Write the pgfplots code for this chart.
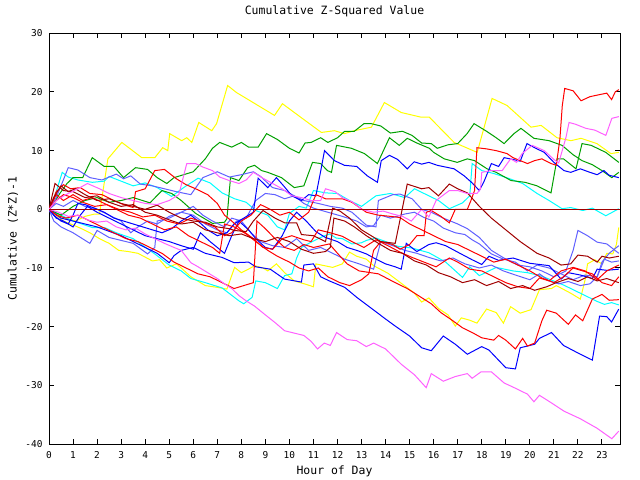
\documentclass[border=0pt]{standalone}
\usepackage{fontspec}
\setmainfont{DejaVu Sans Mono}
\usepackage{pgfplots}
\pgfplotsset{compat=1.18}
\definecolor{cred}{RGB}{255,0,0}
\definecolor{cdred}{RGB}{160,0,0}
\definecolor{cgreen}{RGB}{0,160,0}
\definecolor{cblue}{RGB}{0,0,255}
\definecolor{clblue}{RGB}{96,96,255}
\definecolor{cyellow}{RGB}{255,255,0}
\definecolor{ccyan}{RGB}{0,255,255}
\definecolor{cmag}{RGB}{255,96,255}
\begin{document}
\begin{tikzpicture}
\path[use as bounding box] (0,0) rectangle (640bp,480bp);
\begin{axis}[
  at={(49bp,36bp)}, anchor=south west,
  scale only axis, width=571bp, height=410.7bp,
  xmin=0, xmax=23.75, ymin=-40, ymax=30,
  xtick={0,1,...,23},
  xticklabels={0,1,2,3,4,5,6,7,8,9,10,11,12,13,14,15,16,17,18,19,20,21,22,23},
  ytick={-40,-30,-20,-10,0,10,20,30},
  yticklabels={-40,-30,-20,-10,0,10,20,30},
  tick align=inside, major tick length=5bp,
  every tick/.style={black, line width=1bp},
  axis line style={black, line width=1bp},
  tick label style={font=\fontsize{9.5}{11}\selectfont},
  xticklabel style={yshift=-4bp},
  yticklabel style={xshift=-3bp},
  title={Cumulative Z-Squared Value},
  title style={at={(axis description cs:0.5,1.040)}, anchor=center, font=\fontsize{11.5}{13}\selectfont},
  xlabel={Hour of Day},
  xlabel style={at={(axis description cs:0.5,-0.0657)}, anchor=center, font=\fontsize{11.5}{13}\selectfont},
  ylabel={Cumulative (Z*Z)-1},
  ylabel style={at={(axis description cs:-0.063,0.5)}, anchor=center, rotate=0, font=\fontsize{11.5}{13}\selectfont},
  every axis plot/.append style={line width=1bp, mark=none},
]
% Yellow 1 (top)
\addplot[cyellow] coordinates {(0,0)(0.3,-0.8)(0.7,-1.5)(1.1,-2)(1.5,-1.2)(1.9,-0.8)(2.1,-0.8)(2.45,8.6)(3.03,11.4)(3.86,8.8)(4.4,8.8)(4.73,10.5)(4.94,10)(5.02,12.9)(5.52,11.7)(5.73,12.2)(5.94,11.4)(6.23,14.8)(6.77,13.4)(6.97,14.6)(7.43,21.1)(7.8,19.9)(9.38,16)(9.71,18)(10.5,15.6)(11.33,13.1)(11.87,13.4)(12.29,12.9)(12.7,13.4)(13.41,14)(13.95,18.2)(14.65,16.5)(15.48,15.7)(15.82,15.7)(16.85,11.4)(17.81,9.7)(18.43,18.9)(19.05,17.7)(20.05,14)(20.47,14.3)(21.13,12.2)(21.71,11.7)(22.13,12.1)(22.79,11.2)(23.37,9.5)(23.7,9.7)};
% Yellow 2 (lower)
\addplot[cyellow] coordinates {(0,0)(0.3,-1)(0.6,-2)(0.9,-2.5)(1.3,-3.2)(1.7,-4)(2.1,-5)(2.5,-5.8)(2.9,-7)(3.3,-7.2)(3.7,-7.5)(4.3,-8.8)(4.6,-8.6)(4.9,-10)(5.3,-9.3)(5.5,-10)(5.9,-11.5)(6.5,-13)(7.0,-13.3)(7.4,-13.6)(7.72,-9.9)(8.0,-10.8)(8.3,-10.2)(8.55,-9.6)(8.9,-10)(9.1,-10.5)(9.46,-9.3)(9.8,-10.8)(10.2,-12.2)(10.7,-12.8)(11.0,-13.2)(11.1,-9.3)(11.8,-9.9)(12.2,-9.3)(12.5,-7.3)(12.8,-8)(13.2,-8.5)(13.5,-9.6)(14.1,-10.9)(14.65,-12.6)(15.2,-14.3)(15.5,-15.8)(15.8,-15.1)(16.2,-16.9)(16.6,-18)(16.9,-19.9)(17.15,-18.5)(17.5,-18.9)(17.8,-19.4)(18.2,-17)(18.6,-17.6)(18.9,-19.4)(19.2,-16.6)(19.6,-17.7)(20.05,-17.1)(20.4,-13.7)(20.9,-13.5)(21.1,-13)(21.7,-14.3)(22.1,-15.3)(22.3,-12)(22.4,-9.3)(22.7,-8.6)(23.0,-9.3)(23.2,-7.5)(23.45,-7.6)(23.6,-6)(23.7,-3.1)};
% Cyan 1
\addplot[ccyan] coordinates {(0,0)(0.3,3)(0.55,6.3)(0.8,5.5)(1.2,5)(1.8,4.6)(2.3,4.8)(2.5,5.6)(3,4.8)(3.5,4)(4,4.5)(4.5,3.7)(5.1,2.2)(5.6,3.7)(6.2,5.3)(6.7,4.5)(7.2,2.8)(7.72,1.8)(8.2,1.2)(8.6,-0.2)(9.1,-1)(9.5,-3)(9.8,-3.5)(10.0,-0.7)(10.4,0.5)(10.7,0.2)(11,3.2)(11.5,2.8)(12,2.7)(12.5,1.5)(13,0.5)(13.6,2.3)(14.2,2.7)(14.8,2.0)(15.2,3.5)(15.6,2.7)(16.2,1.5)(16.65,0.1)(17.2,1.1)(17.5,2.3)(17.6,7.8)(18,6.6)(18.5,6.1)(19.1,5.3)(19.7,4.4)(20.3,2.7)(20.8,1.5)(21.34,0.1)(21.7,0.3)(22.2,-0.2)(22.6,0.2)(23.16,-1.1)(23.7,0.1)};
% Cyan 2
\addplot[ccyan] coordinates {(0,0)(0.5,-1)(1,-2)(1.8,-3.1)(2.3,-3.1)(2.8,-4)(3.5,-5)(4.4,-7.6)(5.0,-9.5)(5.5,-10.5)(5.9,-11.8)(6.5,-12.5)(7.2,-13.4)(7.9,-15.6)(8.1,-16.1)(8.45,-15)(8.6,-12.2)(9.0,-12.5)(9.5,-13.5)(9.8,-11.3)(10.1,-11)(10.3,-8.3)(10.5,-6.5)(10.9,-5.6)(11.3,-4.8)(11.66,-4.2)(11.95,-4.9)(12.2,-5)(12.6,-5.9)(13.0,-5.7)(13.2,-5.3)(13.6,-4.9)(14.0,-5.5)(14.5,-6.3)(15.1,-6.6)(15.8,-7.4)(16.5,-9)(17.2,-11.6)(17.5,-9.8)(17.9,-11.3)(18.6,-9.9)(19.3,-10.5)(19.9,-10.8)(20.5,-11.4)(21.1,-12.4)(21.4,-12.9)(22.1,-14.3)(22.8,-15.7)(23.1,-16.2)(23.4,-15.9)(23.7,-16.3)};
% Green A
\addplot[cgreen] coordinates {(0,0)(0.2,1)(0.45,2.7)(0.75,4.4)(1.0,5.4)(1.4,5.4)(1.8,8.8)(2.3,7.3)(2.7,7.3)(3.1,5.4)(3.6,7.1)(4.1,6.8)(4.5,5.4)(4.9,4.4)(5.2,5.4)(5.6,5.9)(6.0,6.4)(6.5,8.6)(6.8,10.4)(7.1,11.4)(7.6,10.6)(8.0,11.4)(8.3,10.6)(8.7,10.6)(9.05,12.9)(9.5,11.9)(10.0,10.4)(10.4,9.6)(10.65,11.3)(10.9,11.4)(11.3,12.2)(11.6,11.4)(12.0,12.2)(12.3,13.3)(12.7,13.3)(13.1,14.6)(13.4,14.6)(13.8,14.2)(14.2,13)(14.7,13.3)(15.1,12.6)(15.5,11.3)(15.9,11.2)(16.15,10.4)(16.6,11)(17.0,11.2)(17.39,12.9)(17.68,14.6)(18.2,13.3)(18.6,12.2)(18.93,11.2)(19.34,12.9)(19.63,13.8)(20.17,12.1)(20.8,11.7)(21.34,10.9)(21.8,9.3)(22.17,8.3)(22.6,7.6)(23.0,6.6)(23.41,5.4)(23.7,6.3)};
% Green C
\addplot[cgreen] coordinates {(0,0)(0.5,-1)(1,0.5)(1.5,1.5)(2,2)(2.5,1.2)(3,1.5)(3.5,2.0)(4.2,1.1)(4.7,3.2)(5.1,2.7)(5.5,1.5)(6.1,-0.7)(6.8,-2.4)(7.3,-2.2)(7.4,-1.6)(7.55,5.4)(7.9,4.9)(8.26,7.1)(8.55,7.5)(8.84,6.6)(9.1,6.3)(9.67,5.4)(10.2,3.7)(10.6,4.0)(10.96,8.0)(11.3,7.8)(11.58,6.6)(11.75,6.3)(11.96,10.9)(12.58,10.4)(13.12,9.5)(13.66,7.8)(14.16,12.2)(14.57,10.9)(14.9,12.1)(15.3,11.3)(15.82,10.4)(16.0,9.7)(16.44,8.6)(16.98,8.0)(17.4,8.6)(17.7,8.3)(18.22,6.9)(18.6,6.3)(19.22,4.9)(19.8,4.6)(20.3,4.0)(20.88,2.8)(21.13,8.6)(21.4,8.6)(21.92,6.9)(22.17,11.2)(22.55,10.9)(23.16,9.7)(23.7,8.0)};
% Light blue 1
\addplot[clblue] coordinates {(0,0)(0.3,2)(0.5,4)(0.8,7.1)(1.2,6.7)(1.7,5.4)(2.2,5)(2.8,6)(3.1,5.2)(3.4,5.7)(3.8,4.3)(4.3,4)(4.8,3.5)(5.3,3)(5.9,2.5)(6.4,5.4)(7.0,6.4)(7.5,5.5)(8.0,5.9)(8.5,6.4)(8.8,5.6)(9.3,3.7)(9.8,3.2)(10.2,2.3)(10.6,1.5)(11.2,1)(11.7,0.5)(12.2,0.2)(12.6,-0.5)(13.2,-2.7)(13.6,-3)(13.7,1.5)(14.3,2.5)(14.6,2.6)(15.1,1.8)(15.5,0)(15.9,-0.5)(16.4,-1.5)(17,-2.5)(17.4,-3.3)(17.9,-4.8)(18.4,-7)(19,-8.5)(19.5,-9.5)(20,-9.8)(20.5,-10.5)(21,-11.5)(21.5,-10.5)(21.8,-7)(22.0,-3.6)(22.4,-4.5)(22.8,-5.6)(23.2,-5.9)(23.7,-7.5)};
% Light blue 2
\addplot[clblue] coordinates {(0,0)(0.2,-2)(0.5,-3)(1,-4)(1.7,-5.8)(2.0,-3.6)(2.5,-4.8)(3.0,-5.3)(3.5,-5.8)(4.1,-7.6)(4.4,-6.5)(4.5,-2)(5,-1.5)(5.5,-0.5)(6,0.5)(6.4,-1)(6.8,-2)(7.3,-3)(7.6,-1.5)(8,-2)(8.4,-4)(8.8,-5.5)(9.3,-6.2)(9.8,-6.5)(10.3,-5)(10.8,-7)(11.3,-6.5)(11.8,-7.5)(12.3,-8.5)(12.9,-9.3)(13.5,-10.2)(13.8,-5.5)(14.3,-6.2)(14.8,-7)(15.3,-7.5)(15.8,-8.2)(16.3,-8.8)(16.8,-8.3)(17.3,-9.3)(17.9,-10)(18.4,-9.5)(18.9,-10.5)(19.4,-11.2)(20,-12)(20.4,-11)(20.8,-12.2)(21.2,-12.7)(21.6,-12.3)(22.1,-13)(22.5,-12.7)(22.8,-11.5)(23.1,-8.5)(23.4,-9)(23.7,-8.8)};
% Light blue 3
\addplot[clblue] coordinates {(0,0)(0.3,1)(0.6,0.5)(1,1.5)(1.5,0.5)(2,0)(2.5,-1)(3,-2)(3.4,-4)(3.7,-3)(4.1,-2)(4.5,-2.5)(5,-1.2)(5.5,-0.5)(6,-1)(6.5,-2.5)(7,-3.5)(7.4,-4)(7.8,-2)(8.2,-1.5)(8.6,1.5)(9.0,2.7)(9.4,2.5)(9.8,1.8)(10.2,2.3)(10.6,1)(11,0.2)(11.6,-0.5)(12.2,-1.2)(12.8,-2)(13.2,-3)(13.5,-2.8)(13.8,-1)(14.2,-1.5)(14.8,-0.8)(15.2,-0.5)(15.6,-1.4)(16,-2)(16.4,-3.2)(16.9,-4)(17.3,-4.3)(17.6,-5.2)(17.9,-5.9)(18.4,-7.6)(18.9,-8.5)(19.4,-9)(19.9,-10.5)(20.3,-9.5)(20.8,-10)(21.3,-11)(21.8,-12)(22.3,-11.2)(22.8,-11.5)(23.0,-9)(23.3,-7.5)(23.7,-6.2)};
% Blue 1
\addplot[cblue] coordinates {(0,0)(0.2,-1)(0.5,-2)(0.8,-2.5)(1.0,-1)(1.2,1)(1.5,0.8)(1.9,0.2)(2.3,-0.5)(2.7,-1.5)(3.1,-2)(3.5,-2.5)(3.9,-3)(4.3,-3.5)(4.7,-4)(5.1,-3.3)(5.5,-2)(5.9,-1)(6.2,-2)(6.6,-3.5)(7.0,-4.5)(7.4,-4)(7.7,-2.5)(8.1,-1.5)(8.5,-0.5)(8.7,5.3)(9.1,3.7)(9.46,5.4)(9.8,3.8)(10.1,2.3)(10.5,1.5)(10.8,2.5)(11.1,2.3)(11.3,6.5)(11.46,10)(11.87,8.3)(12.29,7.5)(12.8,7.3)(13.24,5.7)(13.66,4.6)(13.82,8.3)(14.16,9.2)(14.5,8.5)(14.9,6.9)(15.19,8.1)(15.5,7.7)(15.8,8.0)(16.15,7.5)(16.85,6.9)(17.27,5.7)(17.6,4.5)(17.9,3.2)(18.1,4.8)(18.4,7.8)(18.7,7.3)(18.93,8.8)(19.3,8.5)(19.6,8.2)(19.88,11.2)(20.2,10.5)(20.6,9.7)(21.0,8.0)(21.42,6.6)(21.7,6.3)(22.1,6.9)(22.5,6.3)(22.8,5.9)(23.08,6.6)(23.3,5.8)(23.7,5.4)};
% Blue 2 (lower)
\addplot[cblue] coordinates {(0,0)(0.5,-1.5)(1,-2)(2,-3)(3,-4.5)(4,-6.5)(4.5,-7.5)(5.0,-9.1)(5.2,-7.9)(5.5,-7)(6,-6.5)(6.5,-7.5)(7.2,-8.2)(7.7,-9.1)(8.3,-9)(8.6,-9.8)(9.2,-10.2)(9.8,-11.9)(10.5,-12.4)(10.6,-9.5)(11,-9.3)(11.3,-11.5)(11.66,-12.2)(12.3,-13.3)(12.8,-15)(13.45,-17)(14,-18.7)(14.4,-19.9)(15,-21.6)(15.5,-23.6)(15.9,-24.1)(16.4,-21.6)(16.9,-23)(17.4,-24.7)(18,-23.4)(18.3,-24)(19,-27)(19.4,-27.2)(19.6,-23.6)(20.2,-23)(20.4,-22)(20.9,-21)(21.4,-23.2)(22.1,-24.7)(22.6,-25.7)(22.9,-18.2)(23.2,-18.3)(23.4,-19.2)(23.7,-17)};
% Blue 3
\addplot[cblue] coordinates {(0,0)(0.3,-1.5)(0.6,-2)(1.0,-3)(1.3,-1)(1.6,0.5)(2,-0.5)(2.5,-1.5)(3,-2.5)(3.5,-3.5)(4,-4.5)(4.5,-5)(5,-5.5)(5.5,-6.2)(6,-6.8)(6.3,-4)(6.7,-5.5)(7,-6.5)(7.3,-7.5)(7.6,-4.5)(7.9,-2)(8.3,-3.5)(8.6,-5)(9,-6.5)(9.3,-6.8)(9.7,-4.5)(10,-2)(10.3,-0.5)(10.7,-2)(11.1,-3.8)(11.5,-4.8)(12,-5.5)(12.4,-6.5)(12.8,-7)(13.2,-7.6)(13.6,-8.5)(14,-9.3)(14.4,-9.8)(14.65,-10.2)(14.86,-5.8)(15.3,-7.2)(15.8,-6)(16.1,-5.7)(16.5,-6.2)(17.0,-7.3)(17.6,-8.6)(18,-9.4)(18.3,-8)(18.7,-8.7)(19.3,-8.3)(20.0,-9.2)(20.8,-9.6)(21.3,-11.9)(21.6,-10.8)(22.1,-11.2)(22.6,-11.8)(22.8,-10.2)(23.2,-10.4)(23.7,-10.2)};
% Red 1 (jump to 20)
\addplot[cred] coordinates {(0,0)(0.3,2.5)(0.6,1.5)(1,2.5)(1.4,1.5)(1.8,2)(2.3,1)(2.8,0)(3.3,-1)(3.8,-1.5)(4.3,-2.5)(4.8,-3.5)(5.3,-3)(5.8,-4.5)(6.3,-5.5)(6.8,-6.5)(7.1,-7.5)(7.3,-2.5)(7.7,-3)(8.2,-4.2)(8.6,-5.5)(9.1,-7)(9.5,-8)(10,-9)(10.4,-10)(10.8,-10.5)(11.2,-10)(11.6,-11.5)(12.1,-12.5)(12.5,-13)(13,-12)(13.3,-11)(13.5,-7)(13.8,-5.5)(14.3,-6)(14.6,-6.8)(15.0,-6)(15.3,-4.5)(15.6,-4.5)(15.7,-0.5)(15.9,-0.2)(16.3,-1.2)(16.65,-2.3)(16.9,0)(17.4,0)(17.55,1.5)(17.7,3.2)(17.8,10.5)(18.2,10.3)(18.6,10)(19.05,9.5)(19.3,8.8)(19.6,8.3)(19.9,7.8)(20.2,8.3)(20.5,8.6)(20.88,7.8)(21.1,7.5)(21.25,12)(21.35,17.7)(21.45,20.6)(21.8,20.2)(22.13,18.5)(22.5,19.2)(22.96,19.6)(23.2,19.8)(23.4,18.7)(23.55,20)(23.7,20.4)};
% Red 2 (lower)
\addplot[cred] coordinates {(0,0)(0.3,-1)(0.7,-1.5)(1.2,-1)(1.7,-2)(2.2,-3)(2.7,-4)(3.2,-5)(3.7,-5.5)(4.2,-6.5)(4.7,-7.5)(5.2,-9)(5.7,-10)(6.2,-11)(6.7,-11.5)(7.2,-12.5)(7.7,-13.5)(8.1,-13)(8.5,-12.5)(8.65,-2)(9.0,-3.3)(9.4,-5)(9.8,-6.5)(10.2,-7)(10.6,-6)(11.0,-6.5)(11.66,-5.9)(12.0,-7.5)(12.4,-9.3)(12.9,-10.5)(13.7,-11)(14.4,-12.5)(14.9,-13.5)(15.4,-14.8)(15.9,-16.1)(16.3,-17.6)(16.8,-19)(17.2,-20.2)(17.6,-21)(18,-21.9)(18.5,-22.3)(18.7,-21.5)(19.0,-22.3)(19.4,-23.8)(19.7,-22)(19.9,-23.3)(20.2,-22.8)(20.5,-19)(20.7,-17.2)(21.1,-17.7)(21.6,-19.6)(21.9,-18)(22.2,-19)(22.6,-15.3)(23.0,-14.5)(23.3,-15.5)(23.7,-15.4)};
% Red 3
\addplot[cred] coordinates {(0,0)(0.3,3)(0.6,4.2)(0.9,3.5)(1.3,3.7)(1.7,2.7)(2.2,2.5)(2.7,1.5)(3.1,0.8)(3.5,0.3)(3.6,3)(4.0,3.5)(4.4,6.6)(4.8,6.8)(5.3,5.2)(5.7,4.2)(6.1,3.5)(6.6,2.5)(7.0,1)(7.3,-1)(7.6,-2)(8.0,-3.5)(8.5,-5)(8.9,-6.5)(9.3,-6.8)(9.7,-5)(10.1,-4.5)(10.6,-5.2)(10.9,-5.5)(11.2,-3.5)(11.7,-4)(12.2,-4.6)(12.6,-5.5)(13.1,-6.5)(13.6,-5.2)(14.1,-6.2)(14.6,-7.3)(15.1,-8.2)(15.6,-9)(16.1,-9.8)(16.65,-8.3)(17.0,-9)(17.5,-10.2)(18.0,-10.5)(18.5,-11.5)(19.0,-12.5)(19.5,-13.2)(20.0,-13.5)(20.4,-11.7)(20.8,-12.2)(21.3,-10.5)(21.8,-9.9)(22.3,-10.5)(22.8,-12)(23.2,-10.5)(23.7,-9.5)};
% Red 4
\addplot[cred] coordinates {(0,0)(0.3,1.5)(0.6,2.5)(1,2)(1.4,1.2)(1.9,0.5)(2.4,0.8)(2.9,0)(3.4,-0.5)(3.9,-1.3)(4.4,-1)(4.9,-2)(5.4,-2.5)(5.9,-1.5)(6.4,-2.2)(6.9,-3)(7.3,-4.5)(7.6,-4)(8.0,-2)(8.4,-1)(8.8,0.8)(9.2,0)(9.6,-1)(10.0,-0.5)(10.4,-1.8)(10.8,-0.5)(11.1,2.5)(11.5,1.8)(12.2,1.8)(12.6,1.2)(13.2,-0.5)(13.7,-1)(14.2,-1.2)(14.6,-1.4)(15.0,-2.5)(15.5,-3.5)(16,-4.5)(16.5,-5.5)(17,-6)(17.5,-7)(18,-8)(18.5,-9)(19,-8.5)(19.5,-9.5)(20,-10.5)(20.5,-11.7)(21,-12.5)(21.4,-11.5)(21.8,-10)(22.2,-10.5)(22.6,-11)(23,-12.5)(23.4,-13)(23.7,-11.5)};
% Dark red 1
\addplot[cdred] coordinates {(0,0)(0.2,2)(0.5,4)(0.8,3)(1.1,3.5)(1.5,2.5)(2,1.5)(2.5,1.8)(3,1)(3.5,0.5)(4,0)(4.5,0.7)(5,-0.5)(5.5,-1.5)(6,-2)(6.5,-2.2)(7,-3)(7.5,-3.3)(7.7,-3.6)(8.2,-3.8)(8.5,-2)(8.9,-0.2)(9.4,-1.5)(9.8,-2.3)(10.3,-2.3)(10.5,-4.3)(11,-4.5)(11.5,-5.5)(11.8,0.2)(12.1,-0.3)(12.5,-1.5)(13,-3.5)(13.4,-4.5)(13.8,-5.5)(14.4,-5.8)(14.7,0.2)(14.9,4.3)(15.5,3.5)(15.8,3.7)(16.2,2.3)(16.65,4.3)(17,3.5)(17.4,2.8)(17.9,0.5)(18.4,-1.5)(19,-3.5)(19.6,-5.5)(20.3,-7.5)(20.8,-8.3)(21.3,-9.5)(21.7,-9.3)(22.0,-7.8)(22.4,-8.0)(22.8,-9)(23.0,-8)(23.3,-8.3)(23.7,-8)};
% Dark red 2
\addplot[cdred] coordinates {(0,0)(0.25,4.4)(0.6,3.2)(1,3)(1.5,2)(2,2.3)(2.5,1.2)(3,0.5)(3.5,0.8)(4,-0.5)(4.5,-1)(5,-1.8)(5.5,-2.5)(6,-2.2)(6.5,-3.5)(7,-4)(7.5,-4.5)(8,-4.2)(8.5,-5)(9,-5.5)(9.5,-4.8)(10,-5.5)(10.5,-6.8)(11,-7.5)(11.5,-7.2)(11.7,-6.5)(11.85,-1.5)(12.3,-2)(12.7,-3)(13.2,-4.5)(13.7,-5.8)(14.2,-7)(14.7,-7.5)(15.2,-8.8)(15.7,-9.5)(16.2,-10.8)(16.7,-11.5)(17.2,-12.5)(17.7,-12)(18.2,-13)(18.7,-12.3)(19.2,-13.5)(19.7,-13)(20.2,-13.8)(20.7,-13.2)(21.1,-12.5)(21.6,-11.8)(22,-12.3)(22.4,-11.5)(22.8,-12.2)(23.2,-11.8)(23.7,-12.5)};
% Magenta 1
\addplot[cmag] coordinates {(0,0)(0.3,1.5)(0.7,2.5)(1.2,3.5)(1.6,4.4)(2.1,3.5)(2.5,2.7)(3,2)(3.5,1.5)(4,1)(4.5,0.8)(5,1.5)(5.4,2.5)(5.73,7.8)(6.1,7.8)(6.4,7.2)(6.8,6.6)(7.1,5.5)(7.5,4.9)(7.9,4.4)(8.2,5)(8.5,6.3)(8.9,5.3)(9.3,4.4)(9.7,3.5)(10.1,2.3)(10.5,2)(10.9,1.5)(11.3,1.5)(11.5,3.5)(11.9,3)(12.2,2)(12.6,1.3)(13,0)(13.5,-0.5)(13.9,-0.3)(14.3,-0.8)(14.7,-1.2)(15.07,-2)(15.5,0)(15.8,-1.3)(16.1,1.5)(16.65,3.2)(17,3.2)(17.39,2.7)(17.8,2.7)(17.95,3.5)(18.0,6.3)(18.4,6.6)(18.85,6.6)(19.2,8.6)(19.45,8)(19.68,9.5)(20.1,10.9)(20.6,10)(21.0,8.5)(21.2,7.9)(21.5,12.2)(21.63,14.8)(21.9,14.5)(22.33,13.8)(22.7,13.5)(23.16,12.6)(23.41,15.5)(23.7,15.8)};
% Magenta 2 (lowest)
\addplot[cmag] coordinates {(0,0)(0.4,-0.5)(0.8,-1.2)(1.2,-1)(1.6,-1.8)(2,-2.2)(2.4,-2)(2.8,-3)(3.2,-3.5)(3.6,-3.2)(4,-4.2)(4.4,-5)(4.8,-5.8)(5.2,-6.5)(5.5,-7)(5.9,-9.1)(6.2,-9.8)(6.6,-10.8)(7.0,-11.8)(7.3,-12.7)(7.6,-13.5)(7.9,-14.7)(8.2,-15.6)(8.55,-16.5)(9,-18)(9.4,-19.3)(9.8,-20.7)(10.2,-21.1)(10.6,-21.5)(10.9,-22.5)(11.17,-23.8)(11.45,-22.8)(11.7,-23.2)(11.96,-21)(12.4,-22.2)(12.8,-22.4)(13.2,-23.4)(13.5,-22.8)(14.0,-23.8)(14.65,-26.4)(15.2,-28.2)(15.69,-30.4)(15.9,-28)(16.4,-29.3)(16.9,-28.5)(17.4,-28)(17.6,-28.8)(17.97,-27.7)(18.4,-27.7)(18.93,-29.6)(19.3,-30.3)(19.9,-31.5)(20.17,-32.8)(20.4,-31.7)(20.9,-33)(21.42,-34.4)(22.1,-35.7)(22.79,-37.3)(23.41,-39.1)(23.7,-37.8)};
% zero line
\addplot[cdred] coordinates {(0,0)(23.75,0)};
\end{axis}
\end{tikzpicture}
\end{document}
